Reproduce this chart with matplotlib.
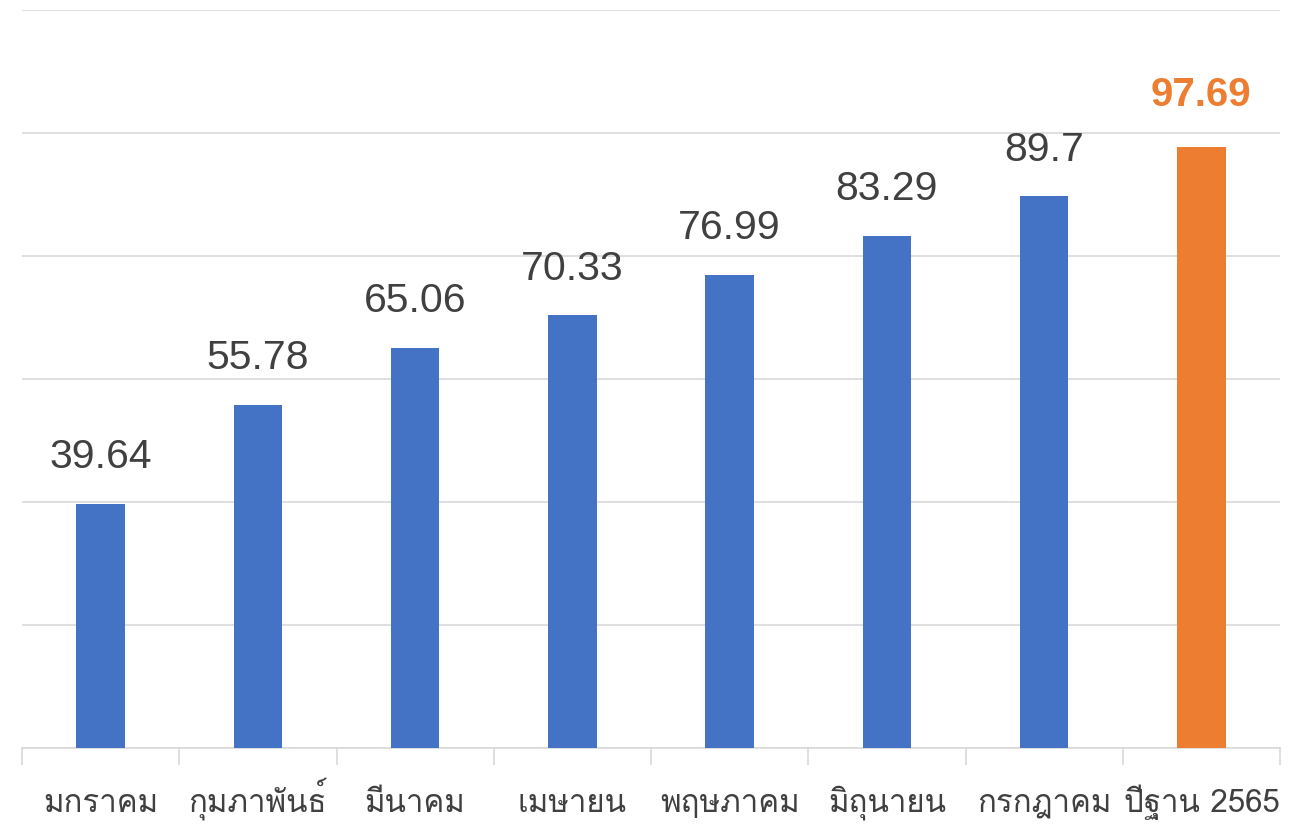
import matplotlib
matplotlib.use("Agg")
import matplotlib.pyplot as plt
from matplotlib import font_manager as fm
from matplotlib.ft2font import FT2Font

categories = ["มกราคม", "กุมภาพันธ์", "มีนาคม", "เมษายน", "พฤษภาคม", "มิถุนายน", "กรกฎาคม", "ปีฐาน 2565"]
values = [39.64, 55.78, 65.06, 70.33, 76.99, 83.29, 89.7, 97.69]
value_labels = ["39.64", "55.78", "65.06", "70.33", "76.99", "83.29", "89.7", "97.69"]

# find a font with Thai glyphs
thai_font = None
for f in fm.fontManager.ttflist:
    try:
        ft = FT2Font(f.fname)
        if ft.get_char_index(0x0E01) and ft.get_char_index(0x0E21):
            thai_font = f.name
            break
    except Exception:
        pass
label_family = ([thai_font] if thai_font else []) + ["Liberation Sans", "DejaVu Sans"]

fig = plt.figure(figsize=(12.89, 8.30), dpi=100)
ax = fig.add_axes([22/1289, 1 - 748/830, (1280 - 22)/1289, (748 - 10)/830])

colors = ["#4472C4"] * 7 + ["#ED7D31"]
x = list(range(len(categories)))
bars = ax.bar(x, values, width=0.31, color=colors, zorder=3)

ax.set_xlim(-0.5, len(categories) - 0.5)
ax.set_ylim(0, 120)
ax.set_yticks([0, 20, 40, 60, 80, 100, 120])
ax.yaxis.grid(True, color="#d9d9d9", linewidth=1.2, zorder=0)
ax.tick_params(axis="y", left=False, labelleft=False)
for s in ["top", "right", "left"]:
    ax.spines[s].set_visible(False)
ax.spines["bottom"].set_color("#d9d9d9")
ax.spines["bottom"].set_linewidth(1.2)

# category boundary ticks
ax.set_xticks([i - 0.5 for i in range(len(categories) + 1)])
ax.set_xticklabels([])
ax.tick_params(axis="x", which="major", length=12, color="#d9d9d9", width=1.2)

for i, cat in enumerate(categories):
    ax.annotate(cat, (i, 0), xycoords=("data", "axes fraction"), xytext=(0, -46),
                textcoords="offset points", ha="center", va="baseline",
                family=label_family, fontsize=22.5, color="#404040", annotation_clip=False)

for i, (v, lab) in enumerate(zip(values, value_labels)):
    if i == len(values) - 1:
        ax.annotate(lab, (i, v), xytext=(0, 24), textcoords="offset points", ha="center", va="bottom",
                    fontsize=29, fontweight="bold", color="#ED7D31", family=["Liberation Sans", "DejaVu Sans"])
    else:
        ax.annotate(lab, (i, v), xytext=(0, 20), textcoords="offset points", ha="center", va="bottom",
                    fontsize=29.5, color="#404040", family=["Liberation Sans", "DejaVu Sans"])

fig.savefig("out.png", dpi=100)
